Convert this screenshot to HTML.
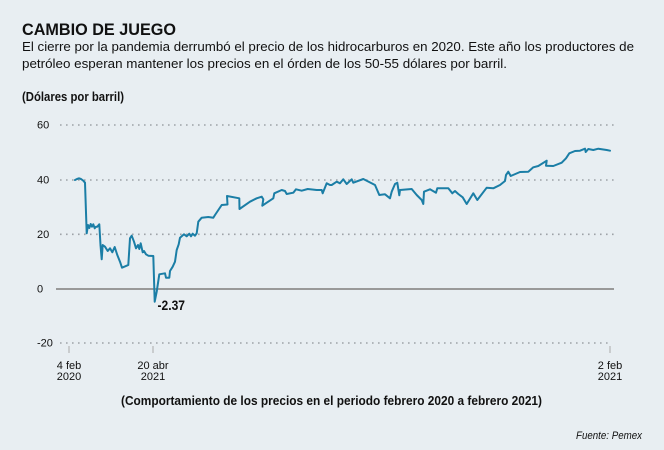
<!DOCTYPE html>
<html><head><meta charset="utf-8"><style>
html,body{margin:0;padding:0;background:#e8eef2;}
svg{display:block;}
text{font-family:"Liberation Sans",sans-serif;fill:#111;}
</style></head><body>
<svg width="664" height="450" viewBox="0 0 664 450" xmlns="http://www.w3.org/2000/svg">
<rect width="664" height="450" fill="#e8eef2"/>
<text x="22" y="35" font-size="17" font-weight="bold" textLength="154" lengthAdjust="spacingAndGlyphs">CAMBIO DE JUEGO</text>
<text x="22" y="51" font-size="13" textLength="612" lengthAdjust="spacingAndGlyphs">El cierre por la pandemia derrumbó el precio de los hidrocarburos en 2020. Este año los productores de</text>
<text x="22" y="68" font-size="13" textLength="485" lengthAdjust="spacingAndGlyphs">petróleo esperan mantener los precios en el órden de los 50-55 dólares por barril.</text>
<text x="22" y="101" font-size="12.5" font-weight="bold" textLength="102" lengthAdjust="spacingAndGlyphs">(Dólares por barril)</text>

<g stroke="#9ea3a8" stroke-width="1.6" stroke-dasharray="1.6 4.4" fill="none">
<line x1="60" y1="125" x2="614" y2="125"/>
<line x1="60" y1="180" x2="614" y2="180"/>
<line x1="60" y1="234.3" x2="614" y2="234.3"/>
<line x1="60" y1="343" x2="610" y2="343"/>
</g>
<line x1="56" y1="289" x2="614" y2="289" stroke="#999" stroke-width="2"/>
<g stroke="#aaa" stroke-width="1">
<line x1="69" y1="346" x2="69" y2="353"/>
<line x1="153" y1="346" x2="153" y2="353"/>
<line x1="610" y1="346" x2="610" y2="353"/>
</g>
<g font-size="11">
<text x="37" y="128.5">60</text>
<text x="37" y="183.5">40</text>
<text x="37" y="237.8">20</text>
<text x="37" y="292.5">0</text>
<text x="37" y="346.5">-20</text>
</g>
<g font-size="11" text-anchor="middle">
<text x="69" y="369">4 feb</text>
<text x="69" y="380">2020</text>
<text x="153" y="369">20 abr</text>
<text x="153" y="380">2021</text>
<text x="610" y="369">2 feb</text>
<text x="610" y="380">2021</text>
</g>

<polyline fill="none" stroke="#1b7ea6" stroke-width="2" stroke-linejoin="round" stroke-linecap="round" points="75,180 77,179 79,178.3 81,179 83.3,180.7 85,182.7 86.7,233.3 88,225 89.3,228 90.7,224 92,226.7 93.3,224.3 94.7,228.3 96,226.7 97.3,226.7 99.3,224.3 100.5,245 101.7,259.3 102.7,245 105,246.7 107.7,251 110,248.3 112.3,252.3 114.7,247 117.3,255 120,261.7 122,267.7 126.7,265.7 128.3,265 130,238.3 131.7,235.7 134,241.7 136,248.3 138,245 139.3,249 140.7,243.3 142.7,252.3 144,251 146,254.3 148.3,255.7 153.3,256 154.7,301.7 156.7,291.7 159.3,274.3 165,273.3 166,277.7 169.3,277.7 170,271 172.7,266.7 175,261.7 176.7,250 178.7,244.3 180,237.7 184,234.3 186.7,236.3 189.3,233.7 191,236.3 192.7,233.7 195,235.7 196.7,233.3 198.3,221.7 201.7,217.7 208.3,217 213.3,217.7 215,215 221.7,205 227.5,204.5 227,196 239.3,198.3 239.5,209 250,201.7 256.7,198.3 261.7,196.7 263.3,199.3 262.3,205.7 266.7,202.7 273.3,198.3 274.3,193.3 281.7,190 285,191 286.7,194 293.3,192.7 296,189.3 301.7,190.7 307.7,189 316.7,190 321.7,190 322.7,193.3 326.7,183.3 330,185 331.7,185 336.7,181.7 340,183.3 343.3,179.3 346.7,184 351.7,179.3 353.3,182.7 363.3,179 375,185 379.3,195 385,194.3 390,198.3 391.7,191.7 395,184 397.3,182.7 399.3,195.3 400,190 411.7,189 416.7,195 421.7,200 423.3,204 424,191.7 430,189.3 436,192.7 437.3,188.3 448.3,188.3 452.3,193.3 455,191 458.3,194 462.7,197.3 466.7,204 473.3,193.3 477.3,200 486.7,187.7 493.3,188.3 500,185 505,181 506,175 508.3,171.7 510.7,176 520,172 528.3,171.7 533.3,167.3 538.3,166 546.7,160.7 546,165.7 553.3,166 561.7,162.7 566,158.3 569.3,153.3 575,151 580,150.7 585,148.7 585.7,152 588.3,149 593.3,150 598.3,148.7 606.7,150 610,150.7"/>

<text x="157.5" y="310" font-size="14" font-weight="bold" textLength="27.5" lengthAdjust="spacingAndGlyphs">-2.37</text>
<text x="121" y="405" font-size="12.5" font-weight="bold" textLength="421" lengthAdjust="spacingAndGlyphs">(Comportamiento de los precios en el periodo febrero 2020 a febrero 2021)</text>
<text x="576" y="439" font-size="11" font-style="italic" textLength="66" lengthAdjust="spacingAndGlyphs">Fuente: Pemex</text>
</svg>
</body></html>
